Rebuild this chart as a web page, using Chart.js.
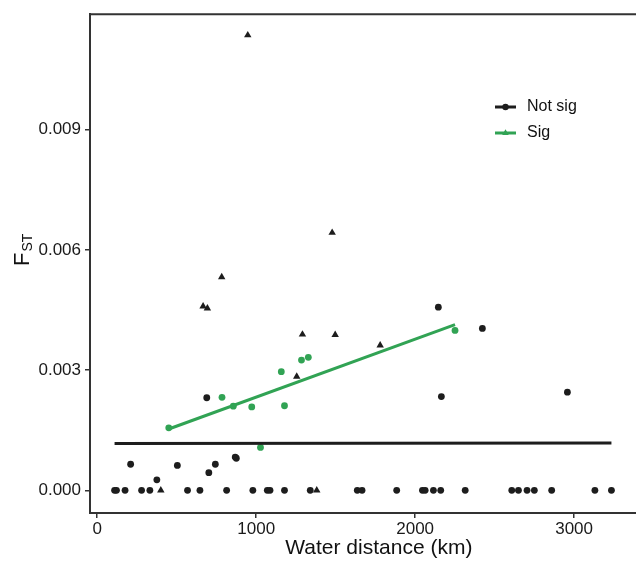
<!DOCTYPE html>
<html><head><meta charset="utf-8">
<script src="https://cdn.jsdelivr.net/npm/chart.js@4/dist/chart.umd.min.js"></script>
<style>
html,body{margin:0;padding:0;background:#fff;overflow:hidden;width:636px;height:561px}
#wrap{position:relative;width:672px;height:561px}
</style>
</head><body>
<div id="wrap"><canvas id="c" width="672" height="561"></canvas></div>
<script>
// ---- data ----
const xTicks = [0, 1000, 2000, 3000];
const yTicks = [0, 0.003, 0.006, 0.009];

const blackCircleX = [109,121,175,279,331,568,646,814,979,1070,1087,1178,1340,1636,1666,1884,2046,2063,2115,2161,2315,2608,2650,2704,2750,2859,3131,3235,
                      689,2146,2423,2165,2958,210,375,504,702,743,868,875];
const blackCircleY = [0,0,0,0,0,0,0,0,0,0,0,0,0,0,0,0,0,0,0,0,0,0,0,0,0,0,0,0,
                      0.00231,0.00457,0.00404,0.00234,0.00245,0.00065,0.00026,0.00062,0.00044,0.00065,0.00083,0.00080];

const blackTriangleX = [947,1478,783,666,693,1291,1497,1780,1255,400,1381];
const blackTriangleY = [0.01136,0.00643,0.00532,0.00459,0.00454,0.00389,0.00388,0.00362,0.00284,0,0];

const greenCircleX = [450,785,856,972,1158,1178,1285,1328,1027,2251];
const greenCircleY = [0.00156,0.00232,0.00210,0.00208,0.00296,0.00211,0.00325,0.00332,0.00107,0.00399];

const notSigLineX = [109, 3235];
const notSigLineY = [0.001166, 0.001183];
const sigLineX = [450, 2251];
const sigLineY = [0.001529, 0.004135];

const legendLabels = ['Not sig', 'Sig'];

// ---- styling ----
const BLACK = '#1d1d1d';
const GREEN = '#31a354';
const AXIS = '#333333';
const FONT = "'Liberation Sans', Arial, Helvetica, sans-serif";

const pts = (xs, ys) => xs.map((x, i) => ({x: x, y: ys[i]}));

const topBorder = {
  id: 'topBorder',
  afterDraw(chart) {
    const {ctx, chartArea: a} = chart;
    ctx.save();
    ctx.strokeStyle = AXIS;
    ctx.lineWidth = 2;
    ctx.beginPath();
    ctx.moveTo(a.left - 1, a.top);
    ctx.lineTo(a.right, a.top);
    ctx.stroke();
    ctx.restore();
  }
};

const yTitle = {
  id: 'yTitle',
  afterDraw(chart) {
    const ctx = chart.ctx;
    ctx.save();
    ctx.translate(29, 266);
    ctx.rotate(-Math.PI / 2);
    ctx.fillStyle = '#111';
    ctx.textBaseline = 'alphabetic';
    ctx.textAlign = 'left';
    ctx.font = '22px ' + FONT;
    ctx.fillText('F', 0, 0);
    const w = ctx.measureText('F').width;
    ctx.font = '14px ' + FONT;
    ctx.fillText('ST', w + 1, 3);
    ctx.restore();
  }
};

const insetLegend = {
  id: 'insetLegend',
  afterDraw(chart) {
    const ctx = chart.ctx;
    const items = [
      {text: legendLabels[0], color: BLACK, style: 'circle', y: 107},
      {text: legendLabels[1], color: GREEN, style: 'triangle', y: 133}
    ];
    ctx.save();
    items.forEach(it => {
      ctx.strokeStyle = it.color;
      ctx.lineWidth = 3;
      ctx.beginPath();
      ctx.moveTo(495, it.y);
      ctx.lineTo(516, it.y);
      ctx.stroke();
      ctx.fillStyle = it.color;
      ctx.beginPath();
      if (it.style === 'circle') {
        ctx.arc(505.5, it.y, 3.2, 0, Math.PI * 2);
      } else {
        const r = 3.8;
        ctx.moveTo(505.5, it.y - r);
        ctx.lineTo(505.5 + r * 0.866, it.y + r * 0.5);
        ctx.lineTo(505.5 - r * 0.866, it.y + r * 0.5);
        ctx.closePath();
      }
      ctx.fill();
      ctx.fillStyle = '#111';
      ctx.font = '16px ' + FONT;
      ctx.textBaseline = 'middle';
      ctx.textAlign = 'left';
      ctx.fillText(it.text, 527, it.y);
    });
    ctx.restore();
  }
};

new Chart(document.getElementById('c'), {
  type: 'scatter',
  data: {
    datasets: [
      {label: 'Not sig fit', data: pts(notSigLineX, notSigLineY), showLine: true, borderColor: BLACK, borderWidth: 3, pointRadius: 0, order: 0},
      {label: 'Sig fit', data: pts(sigLineX, sigLineY), showLine: true, borderColor: GREEN, borderWidth: 3, pointRadius: 0, order: 0},
      {label: 'Not sig circles', data: pts(blackCircleX, blackCircleY), backgroundColor: BLACK, borderWidth: 0, pointRadius: 3.4, pointStyle: 'circle', order: 1},
      {label: 'Not sig triangles', data: pts(blackTriangleX, blackTriangleY), backgroundColor: BLACK, borderWidth: 0, pointRadius: 4.3, pointStyle: 'triangle', order: 1},
      {label: 'Sig circles', data: pts(greenCircleX, greenCircleY), backgroundColor: GREEN, borderWidth: 0, pointRadius: 3.4, pointStyle: 'circle', order: 1}
    ]
  },
  options: {
    responsive: false,
    devicePixelRatio: 1,
    animation: false,
    clip: false,
    layout: {padding: {left: 0, right: 0, top: 8, bottom: 0}},
    plugins: {legend: {display: false}, tooltip: {enabled: false}},
    scales: {
      x: {
        type: 'linear',
        min: -45.6, max: 3589,
        afterBuildTicks: s => { s.ticks = xTicks.map(v => ({value: v})); },
        afterFit: s => { s.height = 48; },
        grid: {display: true, drawOnChartArea: false, drawTicks: true, tickLength: 5, color: AXIS, lineWidth: 1.5},
        border: {display: true, color: AXIS, width: 2},
        ticks: {color: '#1a1a1a', font: {size: 17, family: FONT}, padding: 1, maxRotation: 0, callback: v => String(v)},
        title: {display: true, text: 'Water distance (km)', color: '#111', font: {size: 21, family: FONT}, padding: {top: 0, bottom: 0}}
      },
      y: {
        type: 'linear',
        min: -0.000567, max: 0.011884,
        afterBuildTicks: s => { s.ticks = yTicks.map(v => ({value: v})); },
        afterFit: s => { s.width = 90; },
        grid: {display: true, drawOnChartArea: false, drawTicks: true, tickLength: 5, color: AXIS, lineWidth: 1.5},
        border: {display: true, color: AXIS, width: 2},
        ticks: {color: '#1a1a1a', font: {size: 17, family: FONT}, padding: 4, callback: v => v.toFixed(3)}
      }
    }
  },
  plugins: [topBorder, yTitle, insetLegend]
});
</script>
</body></html>
